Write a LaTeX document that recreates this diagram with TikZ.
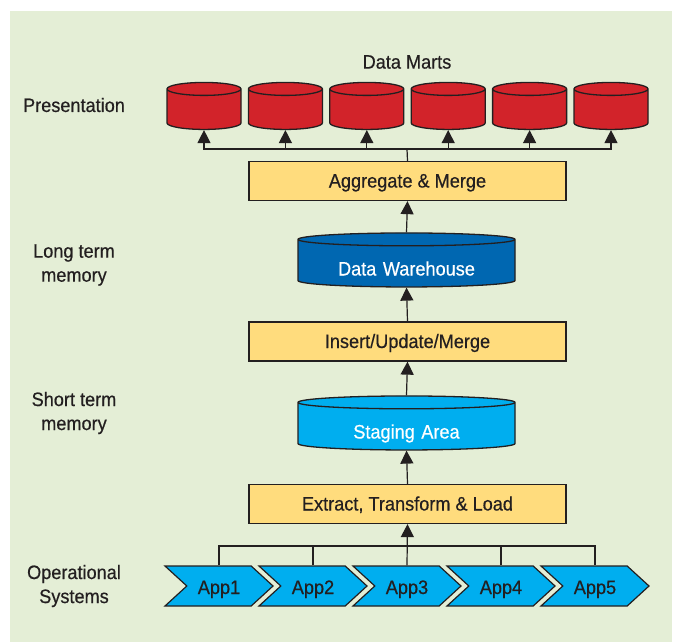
\documentclass[tikz,border=0pt]{standalone}
\usepackage{fontspec}
\setmainfont{Liberation Sans}[FakeStretch=0.93,FakeBold=0.5]
\usetikzlibrary{arrows.meta,shapes.geometric,shapes.symbols}
\definecolor{BackClr}{HTML}{E4EED6}
\definecolor{MartClr}{HTML}{D2232A}
\definecolor{WareClr}{HTML}{0067B1}
\definecolor{StageClr}{HTML}{00AEEF}
\definecolor{StepClr}{HTML}{FFDC7D}
\definecolor{LineClr}{HTML}{231F20}

\begin{document}
\begin{tikzpicture}[x=1pt,y=-1pt,
  every node/.style={font=\fontsize{19.5}{24}\selectfont,text=LineClr},
  conn/.style={line width=1.2pt,draw=LineClr},
  arr/.style={conn,-{Triangle[width=13pt,length=13pt]}},
  stepbox/.style={draw=LineClr,line width=1.3pt,fill=StepClr,minimum width=317pt,minimum height=39pt,inner sep=0pt,
    text height=17pt,text depth=4pt},
  store/.style={cylinder,shape border rotate=90,draw=LineClr,line width=1.3pt,inner sep=0pt,align=center},
  mart/.style={store,fill=MartClr,minimum width=74pt,minimum height=47pt,text width=72pt,aspect=0.18},
  bigstore/.style={store,minimum width=217pt,minimum height=54pt,text width=214pt,aspect=0.06,
    text=white,text height=28pt,text depth=4pt},
  app/.style={signal,signal from=west,signal to=east,signal pointer angle=85,draw=LineClr,line width=1.2pt,fill=StageClr,minimum width=108pt,minimum height=40pt,inner sep=0pt,
    text height=20pt,text depth=4pt},
  layer/.style={align=center}]
\useasboundingbox (0,0) rectangle (675,642);
\fill[BackClr] (10,11) rectangle (672,642);

% layer names
\node[layer] (pres) at (74,105) {Presentation};
\node[layer] (long) at (74,265) {Long term\\memory};
\node[layer] (short) at (74,413) {Short term\\memory};
\node[layer] (ops) at (74,586) {Operational\\Systems};

% data marts
\node (marts) at (407,62) {Data Marts};
\foreach \i in {1,...,6}
  \node[mart] (dm\i) at ({204+81.4*(\i-1)},109.5) {};

% steps and stores
\node[stepbox] (agg) at (407.5,181) {Aggregate \& Merge};
\node[bigstore,fill=WareClr] (dw) at (406.5,263.5) {Data Warehouse};
\node[stepbox] (ium) at (407.5,341.5) {Insert/Update/Merge};
\node[bigstore,fill=StageClr] (stage) at (406.5,426.5) {Staging Area};
\node[stepbox] (etl) at (407.5,504) {Extract, Transform \& Load};

% operational systems
\foreach \i in {1,...,5}
  \node[app] (app\i) at ({219+94*(\i-1)},586) {App\i};

% connectors
\coordinate (topbus) at (407,149);
\coordinate (lowbus) at (407,546);
\draw[conn] (agg.north) -- (topbus);
\foreach \i in {1,...,6}
  \draw[arr] (topbus) -| (dm\i.south);
\draw[arr] (ium.north) -- (dw.south);
\draw[arr] (dw.north) -- (agg.south);
\draw[arr] (etl.north) -- (stage.south);
\draw[arr] (stage.north) -- (ium.south);
\draw[conn] (app1.north) |- (app5.north |- lowbus) -- (app5.north);
\foreach \i in {2,4}
  \draw[conn] (app\i.north) -- (app\i.north |- lowbus);
\draw[arr] (app3.north) -- (etl.south);
\end{tikzpicture}
\end{document}
